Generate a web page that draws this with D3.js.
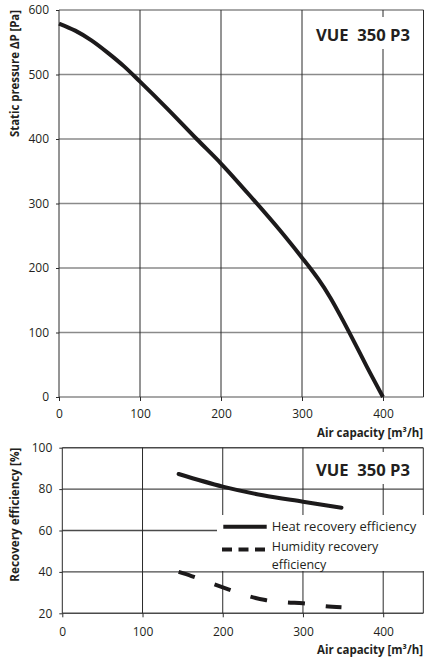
<!DOCTYPE html>
<html><head><meta charset="utf-8">
<script src="https://cdn.jsdelivr.net/npm/d3@7"></script>
<style>
body{margin:0;background:#fff}
svg{display:block}
text{font-family:"Open Sans",sans-serif;fill:#231f20}
</style>
</head><body>
<svg id="c" width="427" height="660"></svg>
<script>
// ---- data ----
const pressureFlow   = [0, 20, 40, 60, 80, 100, 133, 170, 200, 240, 273, 300, 310, 320, 335, 350, 365, 380, 400];
const pressureValues = [579, 568, 553, 534, 513, 489, 448, 400, 362, 306, 258, 216, 200, 183, 154, 120, 84, 47, 0];
const heatFlow       = [145, 200, 250, 300, 348];
const heatValues     = [87.3, 81.2, 77, 73.9, 71];
const humidityFlow   = [145, 161, 186, 207, 232, 253, 280, 300, 327, 348];
const humidityValues = [40, 38, 34.5, 31.6, 28.3, 26.4, 25.3, 24.8, 23.5, 22.9];
const xTicks         = [0, 100, 200, 300, 400];
const pressureTicks  = [0, 100, 200, 300, 400, 500, 600];
const efficiencyTicks= [20, 40, 60, 80, 100];
const modelName      = "VUE  350 P3";
const xTitle         = "Air capacity [m³/h]";
const pressureTitle  = "Static pressure ΔP [Pa]";
const efficiencyTitle= "Recovery efficiency [%]";
const legendLabels   = ["Heat recovery efficiency", ["Humidity recovery", "efficiency"]];

const svg = d3.select("#c");
const ink = "#1c1a1b";

function panel(o){
  const g = svg.append("g");
  const x = o.x, y = o.y;
  const [x0, x1] = x.range();
  const [yb, yt] = y.range();
  g.selectAll(".h").data(o.yTicks).join("line")
    .attr("x1", x0).attr("x2", x1).attr("y1", d=>y(d)).attr("y2", d=>y(d))
    .attr("stroke", o.hColor).attr("stroke-width", 1.4);
  g.selectAll(".v").data(o.xTicks.concat([x.domain()[1]])).join("line")
    .attr("x1", d=>x(d)).attr("x2", d=>x(d)).attr("y1", yt).attr("y2", yb)
    .attr("stroke", "#2a2a2a").attr("stroke-width", 1);
  const ax = g.append("g").attr("transform", `translate(${x0},0)`)
    .call(d3.axisLeft(y).tickValues(o.yTicks).tickSize(3).tickPadding(7).tickFormat(d3.format("d")));
  ax.select(".domain").remove();
  ax.selectAll("line").attr("stroke", "#2a2a2a");
  ax.selectAll("text").attr("font-size", 12).attr("font-family", "Open Sans").attr("fill", "#231f20");
  const bx = g.append("g").attr("transform", `translate(0,${yb})`)
    .call(d3.axisBottom(x).tickValues(o.xTicks).tickSize(4).tickPadding(o.xPad).tickFormat(d3.format("d")));
  bx.select(".domain").remove();
  bx.selectAll("line").attr("stroke", "#2a2a2a");
  bx.selectAll("text").attr("font-size", 12).attr("font-family", "Open Sans").attr("fill", "#231f20");
  g.append("text").attr("x", 423).attr("y", o.xTitleY).attr("text-anchor", "end")
    .attr("font-weight", 700).attr("font-size", 12).attr("textLength", 106).attr("lengthAdjust","spacingAndGlyphs")
    .text(xTitle);
  g.append("text").attr("transform", `translate(19,${yt}) rotate(-90)`).attr("text-anchor", "end")
    .attr("font-weight", 700).attr("font-size", 12).attr("textLength", o.yTitleLen).attr("lengthAdjust","spacingAndGlyphs")
    .text(o.yTitle);
  g.append("rect").attr("x", 311).attr("y", o.boxY).attr("width", 110).attr("height", 32).attr("fill", "#fff");
  g.append("text").attr("x", 316).attr("y", o.boxY + 24).attr("font-weight", 700).attr("font-size", 16)
    .style("white-space", "pre").attr("textLength", 94).attr("lengthAdjust","spacingAndGlyphs").text(modelName);
  return g;
}

// ---- top chart ----
const xTop = d3.scaleLinear().domain([0, 450]).range([59, 423.5]);
const yTop = d3.scaleLinear().domain([0, 600]).range([397, 10]);
const gTop = panel({x:xTop, y:yTop, xTicks, yTicks:pressureTicks, hColor:"#8a8a8a", xPad:8, xTitleY:436.5,
  yTitle:pressureTitle, yTitleLen:127, boxY:17});
const topLine = d3.line().x(d=>xTop(d[0])).y(d=>yTop(d[1])).curve(d3.curveMonotoneX);
gTop.append("path").datum(d3.zip(pressureFlow, pressureValues)).attr("d", topLine)
  .attr("fill", "none").attr("stroke", ink).attr("stroke-width", 4).attr("stroke-linejoin","round");

// ---- bottom chart ----
const xBot = d3.scaleLinear().domain([0, 450]).range([62.3, 423.3]);
const yBot = d3.scaleLinear().domain([20, 100]).range([613.3, 447.7]);
const gBot = panel({x:xBot, y:yBot, xTicks, yTicks:efficiencyTicks, hColor:"#4a4a4a", xPad:10, xTitleY:653.5,
  yTitle:efficiencyTitle, yTitleLen:134, boxY:452});

const lg = gBot.append("g");
lg.append("rect").attr("x", 217).attr("y", 515).attr("width", 208).attr("height", 56).attr("fill", "#fff");
lg.append("line").attr("x1", 223.3).attr("x2", 266.7).attr("y1", 526.7).attr("y2", 526.7)
  .attr("stroke", ink).attr("stroke-width", 4);
lg.append("line").attr("x1", 222).attr("x2", 266).attr("y1", 549.5).attr("y2", 549.5)
  .attr("stroke", ink).attr("stroke-width", 4).attr("stroke-dasharray", "10,6.5");
lg.append("text").attr("x", 271.7).attr("y", 530.7).attr("font-size", 13).text(legendLabels[0]);
lg.append("text").attr("x", 271.7).attr("y", 551).attr("font-size", 12.5).text(legendLabels[1][0]);
lg.append("text").attr("x", 271.7).attr("y", 568.5).attr("font-size", 12.5).text(legendLabels[1][1]);

const botLine = d3.line().x(d=>xBot(d[0])).y(d=>yBot(d[1])).curve(d3.curveMonotoneX);
gBot.append("path").datum(d3.zip(heatFlow, heatValues)).attr("d", botLine)
  .attr("fill", "none").attr("stroke", ink).attr("stroke-width", 4).attr("stroke-linecap","round");
gBot.append("path").datum(d3.zip(humidityFlow, humidityValues)).attr("d", botLine)
  .attr("fill", "none").attr("stroke", ink).attr("stroke-width", 4).attr("stroke-dasharray", "17,21");
</script>
</body></html>
